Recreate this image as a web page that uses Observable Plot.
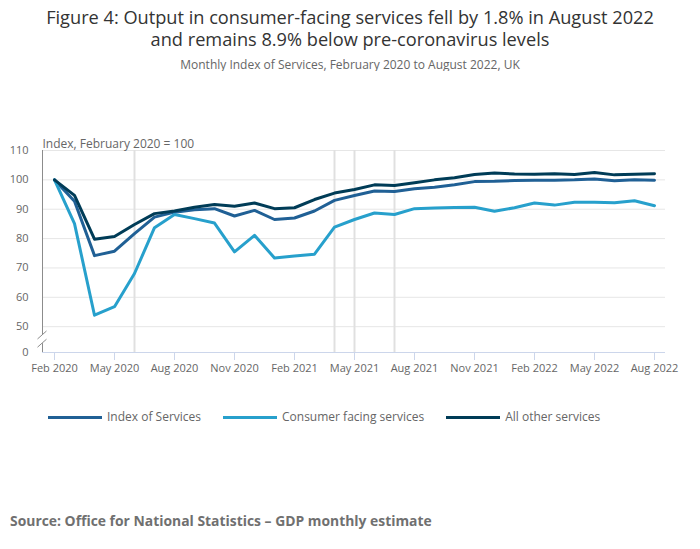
<!DOCTYPE html>
<html>
<head>
<meta charset="utf-8">
<script src="https://cdn.jsdelivr.net/npm/d3@7"></script>
<script src="https://cdn.jsdelivr.net/npm/@observablehq/plot@0.6"></script>
<style>
  html, body { margin: 0; padding: 0; background: #fff; }
  body { font-family: "Open Sans", sans-serif; width: 700px; height: 549px; position: relative; overflow: hidden; }
  #title { position: absolute; top: 6px; left: 0; width: 700px; text-align: center; font-size: 18.2px; line-height: 22px; color: #333; }
  #subtitle { position: absolute; top: 57px; left: 0; width: 700px; text-align: center; font-size: 12px; line-height: 15px; color: #666; }
  #chart { position: absolute; top: 71px; left: 0; }
  #legend { position: absolute; top: 408px; left: 48px; display: flex; align-items: center; font-size: 12px; color: #666; line-height: 18px; }
  .item { display: flex; align-items: center; margin-right: 22px; }
  .sw { width: 54px; height: 3px; margin-right: 5px; }
  #source { position: absolute; top: 511px; left: 10px; font-size: 13.9px; font-weight: bold; color: #707070; }
</style>
</head>
<body>
<div id="title"></div>
<div id="subtitle"></div>
<div id="chart"></div>
<div id="legend"></div>
<div id="source"></div>
<script>
const titleText = "Figure 4: Output in consumer-facing services fell by 1.8% in August 2022<br>and remains 8.9% below pre-coronavirus levels";
const subtitleText = "Monthly Index of Services, February 2020 to August 2022, UK";
const yLabel = "Index, February 2020 = 100";
const sourceText = "Source: Office for National Statistics \u2013 GDP monthly estimate";

const months = [
  "Feb 2020","Mar 2020","Apr 2020","May 2020","Jun 2020","Jul 2020","Aug 2020","Sep 2020","Oct 2020","Nov 2020","Dec 2020",
  "Jan 2021","Feb 2021","Mar 2021","Apr 2021","May 2021","Jun 2021","Jul 2021","Aug 2021","Sep 2021","Oct 2021","Nov 2021","Dec 2021",
  "Jan 2022","Feb 2022","Mar 2022","Apr 2022","May 2022","Jun 2022","Jul 2022","Aug 2022"
];
const xTicks = ["Feb 2020","May 2020","Aug 2020","Nov 2020","Feb 2021","May 2021","Aug 2021","Nov 2021","Feb 2022","May 2022","Aug 2022"];
const markerMonths = ["Jun 2020","Apr 2021","May 2021","Jul 2021"];

const seriesNames = ["Index of Services", "Consumer facing services", "All other services"];
const seriesColors = ["#206095", "#27a0cc", "#003c57"];

const indexOfServices = [100.0, 92.7, 74.2, 75.7, 81.7, 87.3, 89.0, 89.8, 90.2, 87.7, 89.6,
  86.5, 87.0, 89.4, 93.0, 94.7, 96.2, 96.0, 97.0, 97.5, 98.3, 99.4, 99.5,
  99.8, 99.9, 99.9, 100.0, 100.3, 99.7, 100.0, 99.9];
const consumerFacing = [100.0, 85.1, 53.9, 56.8, 68.1, 83.7, 88.2, 86.8, 85.3, 75.5, 81.1,
  73.4, 74.1, 74.7, 83.9, 86.5, 88.7, 88.2, 90.2, 90.4, 90.6, 90.7, 89.3,
  90.5, 92.1, 91.4, 92.4, 92.4, 92.2, 92.9, 91.2];
const allOther = [100.0, 94.7, 79.8, 80.7, 84.8, 88.5, 89.4, 90.7, 91.6, 91.0, 92.1,
  90.2, 90.5, 93.3, 95.5, 96.7, 98.3, 98.1, 99.0, 100.0, 100.7, 101.8, 102.3,
  102.0, 101.9, 102.1, 101.8, 102.5, 101.7, 101.9, 102.1];

// broken axis: the "0" baseline sits just below 50
const yBase = 41.2;
const yBreak = [44.2, 47.0];
const yTicks = [yBase, 50, 60, 70, 80, 90, 100, 110];
const yGrid = [50, 60, 70, 80, 90, 100, 110];

const allSeries = [indexOfServices, consumerFacing, allOther];
const data = allSeries.flatMap((vals, s) => vals.map((v, i) => ({month: months[i], value: v, series: seriesNames[s]})));

document.getElementById("title").innerHTML = titleText;
document.getElementById("subtitle").textContent = subtitleText;
document.getElementById("source").textContent = sourceText;
document.getElementById("legend").innerHTML = seriesNames.map((n, i) =>
  `<div class="item"><div class="sw" style="background:${seriesColors[i]}"></div><span>${n}</span></div>`).join("");

const axisBreak = (index, scales, values, dimensions) => {
  const g = d3.create("svg:g");
  const x0 = dimensions.marginLeft + 0.5;
  const y = scales.y;
  g.append("line").attr("x1", x0).attr("x2", x0).attr("y1", y(110)).attr("y2", y(yBreak[1]))
    .attr("stroke", "#8c8c8c").attr("stroke-width", 1);
  g.append("line").attr("x1", x0).attr("x2", x0).attr("y1", y(yBreak[0])).attr("y2", y(yBase))
    .attr("stroke", "#8c8c8c").attr("stroke-width", 1);
  for (const v of yBreak) {
    g.append("line").attr("x1", x0 - 5).attr("x2", x0 + 4).attr("y1", y(v) + 4).attr("y2", y(v) - 4)
      .attr("stroke", "#8c8c8c").attr("stroke-width", 1);
  }
  return g.node();
};

const chart = Plot.plot({
  width: 700,
  height: 324,
  marginTop: 79,
  marginBottom: 43,
  marginLeft: 42,
  marginRight: 35,
  style: {fontFamily: "Open Sans, sans-serif", background: "#fff", overflow: "visible"},
  x: {type: "point", domain: months, padding: 0.55},
  y: {domain: [yBase, 110]},
  color: {domain: seriesNames, range: seriesColors},
  marks: [
    Plot.gridY(yGrid, {stroke: "#e6e6e6", strokeOpacity: 1}),
    Plot.ruleX(markerMonths, {x: d => d, y1: yBase, y2: 110, stroke: "#e0e0e0", strokeWidth: 2}),
    Plot.ruleY([yBase], {stroke: "#ccd6eb", strokeWidth: 1}),
    Plot.axisX({ticks: xTicks, tickSize: 8, tickPadding: 4, stroke: "#ccd6eb", fill: "#666", fontSize: 11, label: null}),
    Plot.axisY({ticks: yTicks, tickSize: 0, tickPadding: 14, tickFormat: d => d === yBase ? "0" : String(d), fill: "#666", fontSize: 11, label: null}),
    axisBreak,
    Plot.text([yLabel], {frameAnchor: "top-left", dy: -11, textAnchor: "start", fontSize: 12, fill: "#666"}),
    Plot.lineY(data, {x: "month", y: "value", stroke: "series", strokeWidth: 3, curve: "linear"})
  ]
});
document.getElementById("chart").appendChild(chart);
</script>
</body>
</html>
